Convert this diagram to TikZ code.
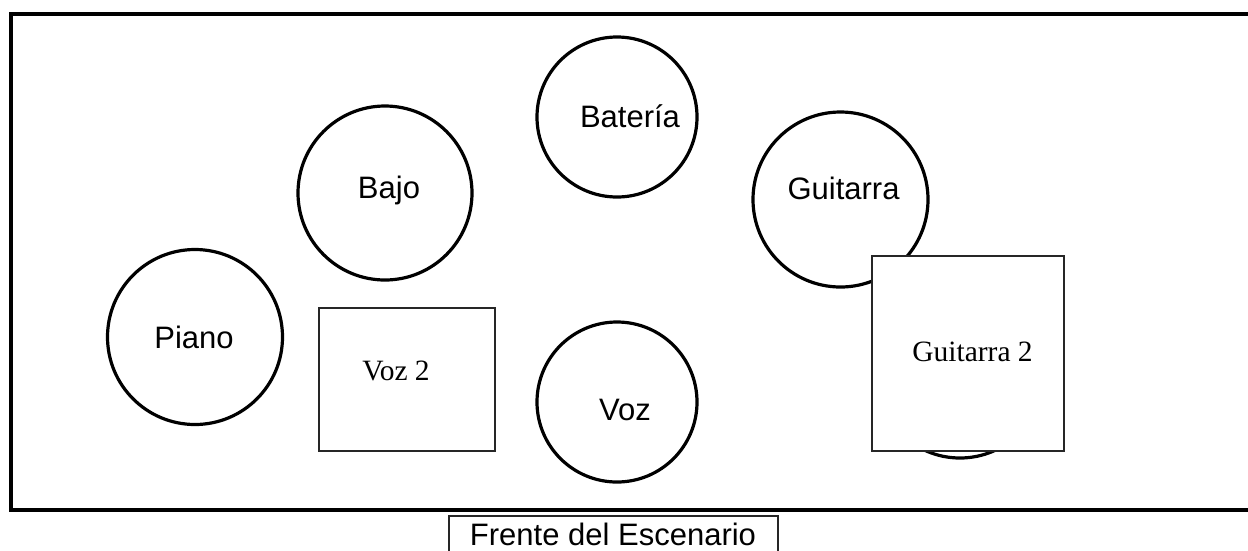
\documentclass[tikz,border=0pt]{standalone}
\usepackage{fontspec}
\setmainfont{Liberation Sans}
\newfontfamily\timesf{Liberation Serif}
\begin{document}
\begin{tikzpicture}[x=1pt,y=-1pt,
  seat/.style={draw=black,line width=3.2pt,circle,fill=white,inner sep=0pt},
  box/.style={draw=black!85,line width=1.3pt,fill=white,inner sep=0pt},
  lab/.style={anchor=base,inner sep=0pt,font=\fontsize{31}{37}\selectfont},
  tlab/.style={anchor=base,inner sep=0pt,font=\timesf\fontsize{29.5}{35}\selectfont}]
\useasboundingbox (0,0) rectangle (1248,550);
\clip (0,0) rectangle (1248,550);
% stage outline
\coordinate (st1) at (1270,14);
\coordinate (st2) at (11,14);
\coordinate (st3) at (11,510);
\coordinate (st4) at (1270,510);
\draw[line width=4.5pt] (st1) -- (st2) -- (st3) -- (st4);
% circles
\node[seat,minimum size=160pt] (bat) at (617,117) {};
\node[seat,minimum size=174pt] (baj) at (385,193) {};
\node[seat,minimum size=175pt] (gui) at (840.5,199.5) {};
\node[seat,minimum size=175pt] (pia) at (195,337) {};
\node[seat,minimum size=160pt] (voz) at (617,402) {};
\node[seat,minimum size=168pt] (hid) at (960,374) {};
% boxes
\node[box,minimum width=176pt,minimum height=143pt] (voz2) at (407,379.5) {};
\node[box,minimum width=192pt,minimum height=195pt] (gui2) at (968,353.5) {};
\node[box,minimum width=329pt,minimum height=50pt] (fre) at (613.5,541) {};
% labels
\node[lab] (tbat) at (630,127) {Batería};
\node[lab] (tbaj) at (389,198) {Bajo};
\node[lab] (tgui) at (843.5,199) {Guitarra};
\node[lab] (tpia) at (194,348) {Piano};
\node[lab] (tvoz) at (625,420) {Voz};
\node[tlab] (tvoz2) at (396,380) {Voz 2};
\node[tlab] (tgui2) at (972.5,361) {Guitarra 2};
\node[lab] (tfre) at (613,545.5) {Frente del Escenario};
\end{tikzpicture}
\end{document}
